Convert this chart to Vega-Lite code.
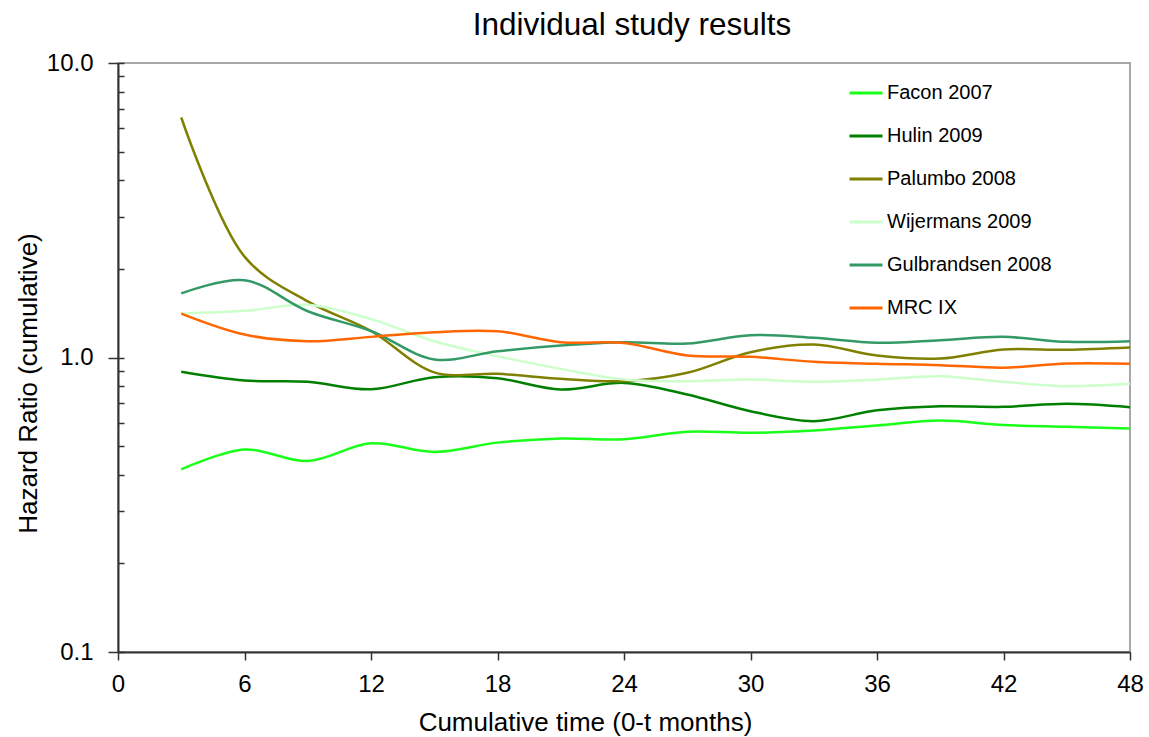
{
  "$schema": "https://vega.github.io/schema/vega-lite/v6.json",
  "width": 1012,
  "height": 589,
  "autosize": "none",
  "padding": {"left": 118, "top": 63, "right": 19, "bottom": 85},
  "background": "white",
  "config": {
    "font": "Liberation Sans",
    "view": {"stroke": "#8c8c8c", "strokeWidth": 1.5},
    "axis": {"labelFont": "Liberation Sans", "titleFont": "Liberation Sans", "labelColor": "black", "titleColor": "black", "titleFontWeight": "normal", "domainColor": "#333333", "domainWidth": 2, "tickColor": "#333333", "tickWidth": 1.5, "grid": false}
  },
  "title": {"text": "Individual study results", "fontSize": 31.5, "fontWeight": "normal", "font": "Liberation Sans", "anchor": "middle", "offset": 10, "dx": 8, "color": "black"},
  "data": {"values": [
    {"study": "Facon 2007", "month": 3, "hr": 0.417},
    {"study": "Facon 2007", "month": 6, "hr": 0.487},
    {"study": "Facon 2007", "month": 9, "hr": 0.445},
    {"study": "Facon 2007", "month": 12, "hr": 0.511},
    {"study": "Facon 2007", "month": 15, "hr": 0.478},
    {"study": "Facon 2007", "month": 18, "hr": 0.514},
    {"study": "Facon 2007", "month": 21, "hr": 0.531},
    {"study": "Facon 2007", "month": 24, "hr": 0.528},
    {"study": "Facon 2007", "month": 27, "hr": 0.56},
    {"study": "Facon 2007", "month": 30, "hr": 0.555},
    {"study": "Facon 2007", "month": 33, "hr": 0.565},
    {"study": "Facon 2007", "month": 36, "hr": 0.588},
    {"study": "Facon 2007", "month": 39, "hr": 0.611},
    {"study": "Facon 2007", "month": 42, "hr": 0.59},
    {"study": "Facon 2007", "month": 45, "hr": 0.582},
    {"study": "Facon 2007", "month": 48, "hr": 0.574},
    {"study": "Hulin 2009", "month": 3, "hr": 0.894},
    {"study": "Hulin 2009", "month": 6, "hr": 0.835},
    {"study": "Hulin 2009", "month": 9, "hr": 0.827},
    {"study": "Hulin 2009", "month": 12, "hr": 0.78},
    {"study": "Hulin 2009", "month": 15, "hr": 0.857},
    {"study": "Hulin 2009", "month": 18, "hr": 0.85},
    {"study": "Hulin 2009", "month": 21, "hr": 0.779},
    {"study": "Hulin 2009", "month": 24, "hr": 0.82},
    {"study": "Hulin 2009", "month": 27, "hr": 0.749},
    {"study": "Hulin 2009", "month": 30, "hr": 0.657},
    {"study": "Hulin 2009", "month": 33, "hr": 0.608},
    {"study": "Hulin 2009", "month": 36, "hr": 0.662},
    {"study": "Hulin 2009", "month": 39, "hr": 0.683},
    {"study": "Hulin 2009", "month": 42, "hr": 0.68},
    {"study": "Hulin 2009", "month": 45, "hr": 0.696},
    {"study": "Hulin 2009", "month": 48, "hr": 0.678},
    {"study": "Palumbo 2008", "month": 3, "hr": 6.53},
    {"study": "Palumbo 2008", "month": 6, "hr": 2.2},
    {"study": "Palumbo 2008", "month": 9, "hr": 1.55},
    {"study": "Palumbo 2008", "month": 12, "hr": 1.23},
    {"study": "Palumbo 2008", "month": 15, "hr": 0.89},
    {"study": "Palumbo 2008", "month": 18, "hr": 0.88},
    {"study": "Palumbo 2008", "month": 21, "hr": 0.847},
    {"study": "Palumbo 2008", "month": 24, "hr": 0.831},
    {"study": "Palumbo 2008", "month": 27, "hr": 0.887},
    {"study": "Palumbo 2008", "month": 30, "hr": 1.042},
    {"study": "Palumbo 2008", "month": 33, "hr": 1.107},
    {"study": "Palumbo 2008", "month": 36, "hr": 1.016},
    {"study": "Palumbo 2008", "month": 39, "hr": 0.992},
    {"study": "Palumbo 2008", "month": 42, "hr": 1.065},
    {"study": "Palumbo 2008", "month": 45, "hr": 1.062},
    {"study": "Palumbo 2008", "month": 48, "hr": 1.081},
    {"study": "Wijermans 2009", "month": 3, "hr": 1.41},
    {"study": "Wijermans 2009", "month": 6, "hr": 1.44},
    {"study": "Wijermans 2009", "month": 9, "hr": 1.51},
    {"study": "Wijermans 2009", "month": 12, "hr": 1.35},
    {"study": "Wijermans 2009", "month": 15, "hr": 1.136},
    {"study": "Wijermans 2009", "month": 18, "hr": 1.01},
    {"study": "Wijermans 2009", "month": 21, "hr": 0.915},
    {"study": "Wijermans 2009", "month": 24, "hr": 0.842},
    {"study": "Wijermans 2009", "month": 27, "hr": 0.831},
    {"study": "Wijermans 2009", "month": 30, "hr": 0.842},
    {"study": "Wijermans 2009", "month": 33, "hr": 0.827},
    {"study": "Wijermans 2009", "month": 36, "hr": 0.842},
    {"study": "Wijermans 2009", "month": 39, "hr": 0.864},
    {"study": "Wijermans 2009", "month": 42, "hr": 0.827},
    {"study": "Wijermans 2009", "month": 45, "hr": 0.799},
    {"study": "Wijermans 2009", "month": 48, "hr": 0.814},
    {"study": "Gulbrandsen 2008", "month": 3, "hr": 1.65},
    {"study": "Gulbrandsen 2008", "month": 6, "hr": 1.83},
    {"study": "Gulbrandsen 2008", "month": 9, "hr": 1.436},
    {"study": "Gulbrandsen 2008", "month": 12, "hr": 1.23},
    {"study": "Gulbrandsen 2008", "month": 15, "hr": 0.985},
    {"study": "Gulbrandsen 2008", "month": 18, "hr": 1.05},
    {"study": "Gulbrandsen 2008", "month": 21, "hr": 1.098},
    {"study": "Gulbrandsen 2008", "month": 24, "hr": 1.127},
    {"study": "Gulbrandsen 2008", "month": 27, "hr": 1.115},
    {"study": "Gulbrandsen 2008", "month": 30, "hr": 1.19},
    {"study": "Gulbrandsen 2008", "month": 33, "hr": 1.166},
    {"study": "Gulbrandsen 2008", "month": 36, "hr": 1.122},
    {"study": "Gulbrandsen 2008", "month": 39, "hr": 1.145},
    {"study": "Gulbrandsen 2008", "month": 42, "hr": 1.175},
    {"study": "Gulbrandsen 2008", "month": 45, "hr": 1.13},
    {"study": "Gulbrandsen 2008", "month": 48, "hr": 1.136},
    {"study": "MRC IX", "month": 3, "hr": 1.41},
    {"study": "MRC IX", "month": 6, "hr": 1.197},
    {"study": "MRC IX", "month": 9, "hr": 1.136},
    {"study": "MRC IX", "month": 12, "hr": 1.175},
    {"study": "MRC IX", "month": 15, "hr": 1.219},
    {"study": "MRC IX", "month": 18, "hr": 1.228},
    {"study": "MRC IX", "month": 21, "hr": 1.127},
    {"study": "MRC IX", "month": 24, "hr": 1.12},
    {"study": "MRC IX", "month": 27, "hr": 1.016},
    {"study": "MRC IX", "month": 30, "hr": 1.005},
    {"study": "MRC IX", "month": 33, "hr": 0.967},
    {"study": "MRC IX", "month": 36, "hr": 0.952},
    {"study": "MRC IX", "month": 39, "hr": 0.942},
    {"study": "MRC IX", "month": 42, "hr": 0.923},
    {"study": "MRC IX", "month": 45, "hr": 0.954},
    {"study": "MRC IX", "month": 48, "hr": 0.952}
  ]},
  "resolve": {"axis": {"y": "independent"}},
  "layer": [
    {
      "mark": {"type": "line", "interpolate": "catmull-rom", "strokeWidth": 2.5},
      "encoding": {
        "x": {"field": "month", "type": "quantitative", "scale": {"domain": [0, 48], "nice": false, "zero": false},
          "axis": {"values": [0, 6, 12, 18, 24, 30, 36, 42, 48], "title": "Cumulative time (0-t months)", "titleFontSize": 26, "labelFontSize": 24, "labelFlush": false, "tickSize": 8, "labelPadding": 12, "titleX": 467, "titleY": 70, "titleBaseline": "middle"}},
        "y": {"field": "hr", "type": "quantitative", "scale": {"type": "log", "domain": [0.1, 10], "nice": false},
          "axis": {"orient": "left", "values": [0.1, 1, 10], "format": ".1f", "title": "Hazard Ratio (cumulative)", "titleFontSize": 26, "labelFontSize": 24, "tickSize": 10, "labelPadding": 15, "titleX": -90, "titleY": 320, "titleAngle": -90, "titleAlign": "center", "titleBaseline": "middle"}},
        "color": {"field": "study", "type": "nominal",
          "scale": {"domain": ["Facon 2007", "Hulin 2009", "Palumbo 2008", "Wijermans 2009", "Gulbrandsen 2008", "MRC IX"], "range": ["#19ff19", "#008000", "#808000", "#ccffcc", "#339966", "#ff6600"]},
          "legend": {"orient": "none", "legendX": 730, "legendY": 12, "title": null, "symbolType": "stroke", "symbolSize": 1089, "symbolStrokeWidth": 3, "labelFontSize": 20, "labelLimit": 400, "labelFont": "Liberation Sans", "labelColor": "black", "labelOffset": 3, "rowPadding": 15}}
      }
    },
    {
      "mark": {"type": "line", "interpolate": "catmull-rom", "strokeOpacity": 0},
      "encoding": {
        "x": {"field": "month", "type": "quantitative"},
        "y": {"field": "hr", "type": "quantitative",
          "axis": {"orient": "left", "offset": -6, "values": [0.1, 0.2, 0.3, 0.4, 0.5, 0.6, 0.7, 0.8, 0.9, 1, 2, 3, 4, 5, 6, 7, 8, 9, 10], "labels": false, "domain": false, "title": null, "tickSize": 6}},
        "detail": {"field": "study", "type": "nominal"}
      }
    }
  ]
}
